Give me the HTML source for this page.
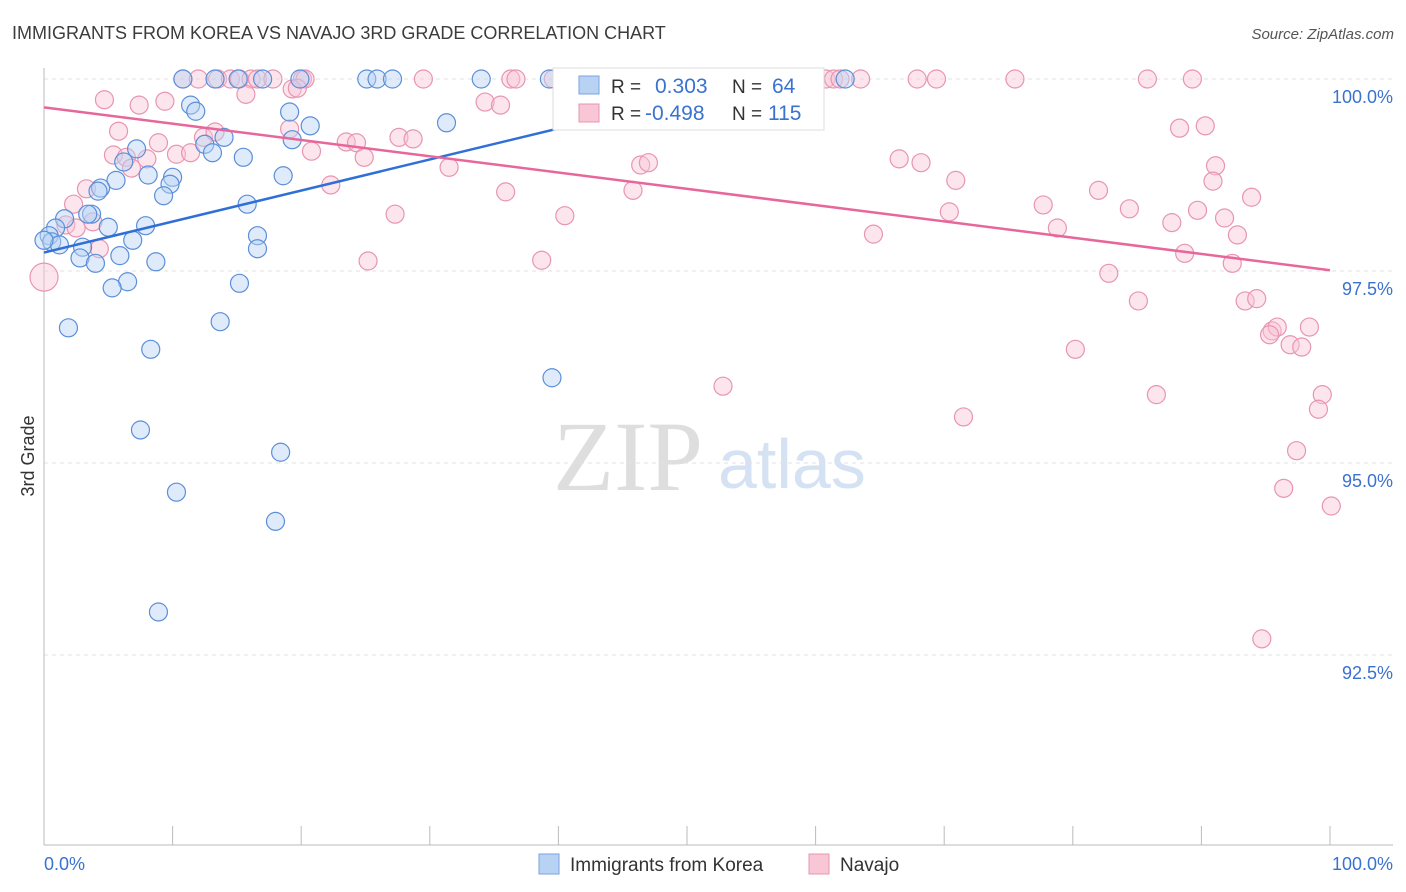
<!DOCTYPE html>
<html><head><meta charset="utf-8">
<style>
body{margin:0;background:#fff;font-family:"Liberation Sans",sans-serif;}
#wrap{position:relative;width:1406px;height:892px;overflow:hidden;}
svg{position:absolute;left:0;top:0;}
</style></head>
<body><div id="wrap">
<svg id="chart" width="1406" height="892">
<text x="12" y="39" font-size="18" fill="#3c3c3c">IMMIGRANTS FROM KOREA VS NAVAJO 3RD GRADE CORRELATION CHART</text>
<text x="1394" y="39" font-size="15" fill="#555" text-anchor="end" font-style="italic">Source: ZipAtlas.com</text>
<text x="34" y="456" font-size="18" fill="#333" text-anchor="middle" transform="rotate(-90 34 456)">3rd Grade</text>
<text x="553" y="490" font-size="100" fill="#dedede" font-family="Liberation Serif,serif">ZIP</text>
<text x="718" y="488" font-size="70" fill="#d4e2f4">atlas</text>
<g id="grid"></g><g id="axes"></g><g id="pts"></g><g id="lines"></g>
<g>
<rect x="553" y="68" width="271" height="62" fill="#fff" stroke="#ddd"/>
<rect x="579" y="76" width="20" height="18" fill="#b8d2f4" stroke="#7aa3e0"/>
<text x="611" y="93" font-size="19" fill="#333">R = </text><text x="655" y="93" font-size="21" fill="#3a72d0">0.303</text>
<text x="732" y="93" font-size="19" fill="#333">N = </text><text x="772" y="93" font-size="21" fill="#3a72d0">64</text>
<rect x="579" y="104" width="20" height="18" fill="#f9c6d6" stroke="#e895b1"/>
<text x="611" y="120" font-size="19" fill="#333">R = </text><text x="645" y="120" font-size="21" fill="#3a72d0">-0.498</text>
<text x="732" y="120" font-size="19" fill="#333">N = </text><text x="768" y="120" font-size="21" fill="#3a72d0">115</text>
</g>
<g>
<rect x="539" y="854" width="20" height="20" fill="#b8d2f4" stroke="#7aa3e0"/>
<text x="570" y="871" font-size="19" fill="#333">Immigrants from Korea</text>
<rect x="809" y="854" width="20" height="20" fill="#f9c6d6" stroke="#e895b1"/>
<text x="840" y="871" font-size="19" fill="#333">Navajo</text>
</g>
</svg></div>
<script>
const yTicks=[100,97.5,95,92.5];
const yTickLabels=["100.0%","97.5%","95.0%","92.5%"];
const xTickCount=[0,10,20,30,40,50,60,70,80,90,100];
const koreaX=[10.8,13.3,15.1,17.0,19.9,25.1,25.9,27.1,34.0,39.3,62.3,11.4,11.8,19.1,20.7,31.3,14.0,12.5,19.3,13.1,15.5,7.2,6.2,8.1,5.6,10.0,9.8,4.4,4.2,18.6,9.3,15.8,3.7,3.4,1.6,5.0,7.9,0.9,0.4,16.6,0.6,1.2,0,3.0,6.9,16.6,5.9,2.8,4.0,8.7,6.5,5.3,15.2,1.9,13.7,8.3,39.5,7.5,18.4,10.3,18.0,8.9];
const koreaY=[100,100,100,100,100,100,100,100,100,100,100,99.66,99.58,99.57,99.39,99.43,99.24,99.15,99.21,99.04,98.98,99.09,98.92,98.75,98.68,98.72,98.63,98.58,98.54,98.74,98.48,98.37,98.24,98.24,98.18,98.07,98.09,98.06,97.96,97.96,97.88,97.84,97.90,97.81,97.90,97.79,97.70,97.67,97.60,97.62,97.36,97.28,97.34,96.76,96.84,96.48,96.11,95.43,95.14,94.62,94.24,93.06];
const navajoX=[10.8,12.0,13.5,14.5,15.2,16.1,16.6,17.8,20.1,20.3,29.5,36.3,36.7,39.6,41.5,52.6,53.3,60.8,61.4,61.9,63.5,67.9,69.4,75.5,85.8,89.3,4.7,7.4,9.4,15.7,19.3,19.7,34.3,35.5,5.8,8.9,12.4,13.3,19.1,23.5,24.3,27.6,28.7,5.4,6.4,8.0,10.3,11.4,20.8,24.9,31.5,46.4,47.0,6.8,66.5,68.2,91.1,88.3,90.3,3.3,2.3,22.3,35.9,45.8,70.9,82.0,93.9,90.9,1.7,2.5,3.8,27.3,40.5,70.4,77.7,84.4,89.7,91.8,64.5,78.8,87.7,92.8,4.3,25.2,38.7,88.7,92.4,82.8,85.1,93.4,94.3,95.5,95.9,98.4,96.9,97.8,95.3,80.2,52.8,71.5,86.5,99.4,99.1,97.4,96.4,100.1,94.7,0];
const navajoY=[100,100,100,100,100,100,100,100,100,100,100,100,100,100,100,100,100,100,100,100,100,100,100,100,100,100,99.73,99.66,99.71,99.80,99.87,99.88,99.70,99.66,99.32,99.17,99.24,99.31,99.35,99.18,99.17,99.24,99.22,99.01,98.98,98.96,99.02,99.04,99.06,98.98,98.85,98.88,98.91,98.84,98.96,98.91,98.87,99.36,99.39,98.57,98.37,98.62,98.53,98.55,98.68,98.55,98.46,98.67,98.10,98.06,98.14,98.24,98.22,98.27,98.36,98.31,98.29,98.19,97.98,98.06,98.13,97.97,97.79,97.63,97.64,97.73,97.60,97.47,97.11,97.11,97.14,96.72,96.77,96.77,96.54,96.51,96.67,96.48,96.00,95.60,95.89,95.89,95.70,95.16,94.67,94.44,92.71,97.42];
const koreaLine=[[0,97.74],[55.7,99.99]];
const navajoLine=[[0,99.63],[100,97.51]];
const ns="http://www.w3.org/2000/svg";
const X=v=>44+v*12.86, Y=v=>79+(100-v)*76.8;
function mk(t,a,p){const e=document.createElementNS(ns,t);for(const k in a)e.setAttribute(k,a[k]);p.appendChild(e);return e;}
const grid=document.getElementById('grid'),axes=document.getElementById('axes'),pts=document.getElementById('pts'),lines=document.getElementById('lines');
yTicks.forEach((t,i)=>{
 const l=mk('line',{x1:44,x2:1393,y1:Y(t),y2:Y(t),stroke:'#e2e2e2','stroke-dasharray':'4,4'},grid);
 
 
 const tx=mk('text',{x:1393,y:Y(t)+24,'font-size':18,fill:'#3a72d0','text-anchor':'end'},grid);
 tx.textContent=yTickLabels[i];
 
 
});
const ax=mk('line',{x1:44,x2:1393,y1:845,y2:845,stroke:'#bbb'},axes);


const ay=mk('line',{x1:44,x2:44,y1:68,y2:845,stroke:'#bbb'},axes);


xTickCount.forEach(t=>{
 const l=mk('line',{x1:X(t),x2:X(t),y1:826,y2:845,stroke:'#bbb'},axes);
 
 
});
[["0.0%",44,'start'],["100.0%",1393,'end']].forEach(d=>{
 const t=mk('text',{x:d[1],y:870,'font-size':18,fill:'#3a72d0','text-anchor':d[2]},axes);
 t.textContent=d[0];
 
 
});
function draw(xs,ys,fill,stroke,name){
 xs.forEach((x,i)=>{
  const r=(x===0&&name==='navajo-point')?14:9;
  const c=mk('circle',{cx:X(x),cy:Y(ys[i]),r:r,fill:fill,'fill-opacity':0.45,stroke:stroke,'stroke-width':1.2},pts);
  
  
 });
}
draw(navajoX,navajoY,'#f9c6d6','#e895b1','navajo-point');
draw(koreaX,koreaY,'#b8d2f4','#5b8fd8','korea-point');
const l1=mk('line',{x1:X(koreaLine[0][0]),y1:Y(koreaLine[0][1]),x2:X(koreaLine[1][0]),y2:Y(koreaLine[1][1]),stroke:'#2f6fd6','stroke-width':2.5},lines);


const l2=mk('line',{x1:X(navajoLine[0][0]),y1:Y(navajoLine[0][1]),x2:X(navajoLine[1][0]),y2:Y(navajoLine[1][1]),stroke:'#e8679a','stroke-width':2.5},lines);


</script>
</body></html>
